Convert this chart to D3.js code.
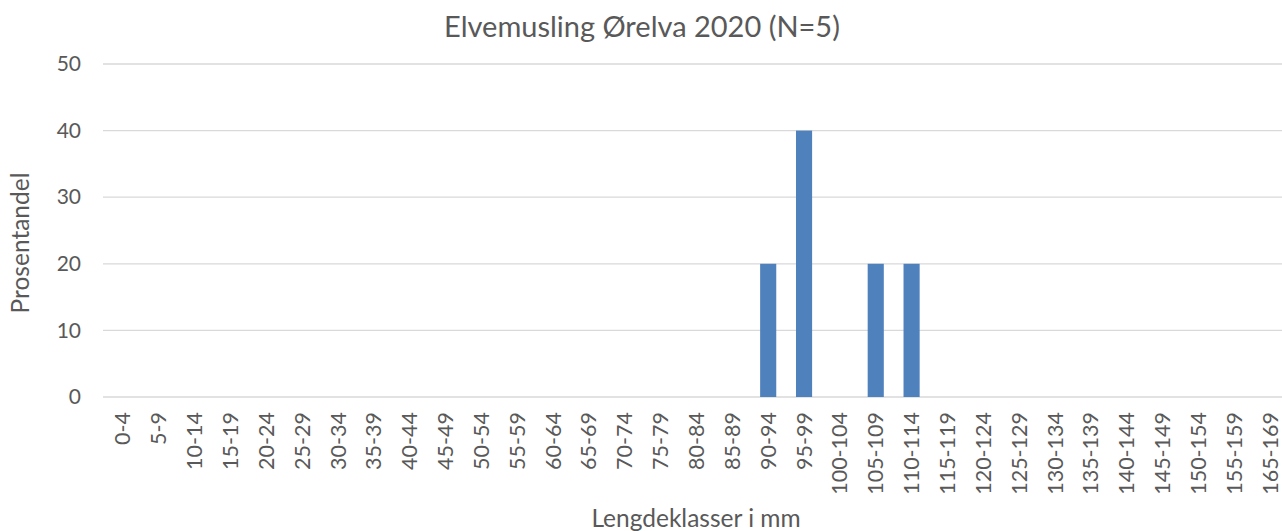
<!DOCTYPE html>
<html>
<head>
<meta charset="utf-8">
<script src="https://cdn.jsdelivr.net/npm/d3@7"></script>
<style>
  body { margin: 0; background: #fff; }
  text { font-family: Lato, "Open Sans", sans-serif; fill: #595959; }
</style>
</head>
<body>
<div id="chart"></div>
<script>
// length classes (note: 160-164 is missing in the source chart)
const klasser = [
    "0-4", "5-9", "10-14", "15-19", "20-24", "25-29", "30-34", "35-39",
    "40-44", "45-49", "50-54", "55-59", "60-64", "65-69", "70-74", "75-79",
    "80-84", "85-89", "90-94", "95-99", "100-104", "105-109", "110-114",
    "115-119", "120-124", "125-129", "130-134", "135-139", "140-144",
    "145-149", "150-154", "155-159", "165-169"
];
const prosent = [
    0, 0, 0, 0, 0, 0, 0, 0,
    0, 0, 0, 0, 0, 0, 0, 0,
    0, 0, 20, 40, 0, 20, 20,
    0, 0, 0, 0, 0, 0,
    0, 0, 0, 0
];
const yTicks = [0, 10, 20, 30, 40, 50];

const width = 1282;
const height = 531;

const svg =
    d3.select("#chart")
      .append("svg")
      .attr("width", width)
      .attr("height", height);

const x =
    d3.scaleBand()
      .domain(klasser)
      .range([105, 1288])
      .paddingInner(0.55)
      .paddingOuter(0.275);

const y =
    d3.scaleLinear()
      .domain([0, 50])
      .range([397, 64]);

// gridlines
svg.append("g")
   .selectAll("line")
   .data(yTicks)
   .enter()
   .append("line")
   .attr("x1", 103)
   .attr("x2", 1288)
   .attr("y1", d => y(d))
   .attr("y2", d => y(d))
   .attr("stroke", "#d9d9d9")
   .attr("stroke-width", 1.3);

// y axis labels
const yAxis =
    svg.append("g")
       .attr("transform", "translate(90,0)")
       .call(d3.axisLeft(y).tickValues(yTicks).tickSize(0).tickPadding(9));
yAxis.select(".domain").remove();
yAxis.selectAll("text")
     .attr("font-size", 21)
     .style("font-family", "Lato, 'Open Sans', sans-serif");

// bars
svg.append("g")
   .selectAll("rect")
   .data(klasser.map((k, i) => ({ k: k, v: prosent[i] })))
   .enter()
   .filter(d => d.v > 0)
   .append("rect")
   .attr("x", d => x(d.k))
   .attr("width", x.bandwidth())
   .attr("y", d => y(d.v))
   .attr("height", d => y(0) - y(d.v))
   .attr("fill", "#4f81bd");

// x axis labels (rotated)
const xAxis =
    svg.append("g")
       .attr("transform", "translate(0,397)")
       .call(d3.axisBottom(x).tickSize(0));
xAxis.select(".domain").remove();
xAxis.selectAll("text")
     .attr("font-size", 21.5)
     .style("font-family", "Lato, 'Open Sans', sans-serif")
     .attr("transform", "rotate(-90)")
     .attr("text-anchor", "end")
     .attr("x", -15)
     .attr("y", 0)
     .attr("dy", "0.35em");

// title
svg.append("text")
   .attr("x", 642)
   .attr("y", 37)
   .attr("text-anchor", "middle")
   .attr("font-size", 29)
   .text("Elvemusling Ørelva 2020 (N=5)");

// axis titles
svg.append("text")
   .attr("x", 696)
   .attr("y", 527)
   .attr("text-anchor", "middle")
   .attr("font-size", 24.5)
   .text("Lengdeklasser i mm");

svg.append("text")
   .attr("transform", "translate(29,243) rotate(-90)")
   .attr("text-anchor", "middle")
   .attr("font-size", 24.5)
   .text("Prosentandel");
</script>
</body>
</html>
